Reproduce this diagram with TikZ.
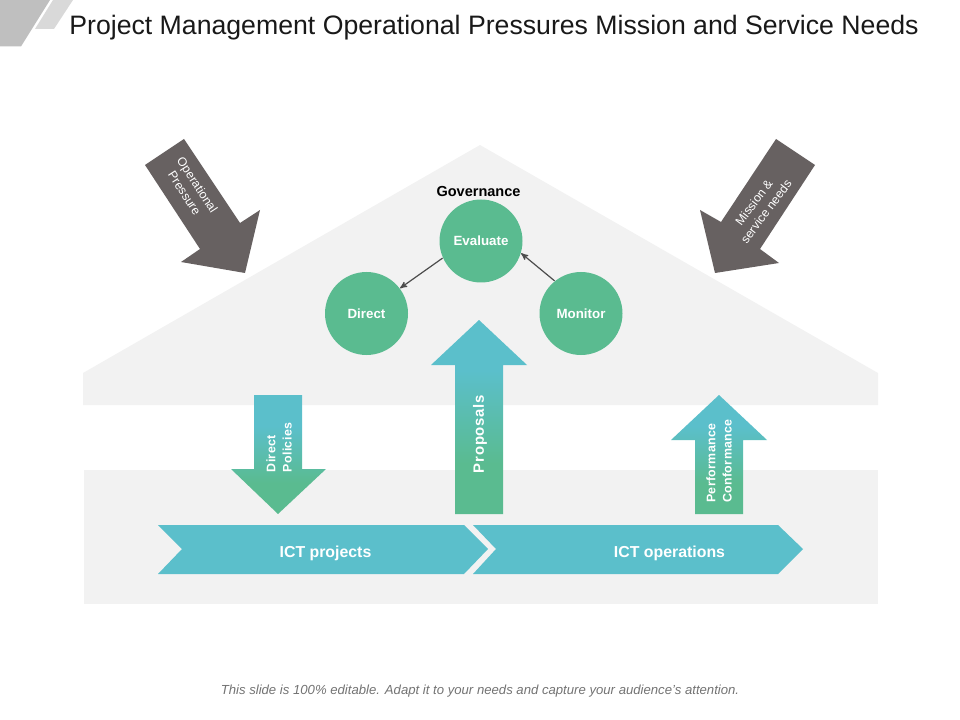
\documentclass[tikz,border=0pt]{standalone}
\usepackage{xcolor}
\usepackage{fontspec}
\setmainfont{Liberation Sans}
\usetikzlibrary{arrows, positioning}
\definecolor{roofgrey}{HTML}{F2F2F2}
\definecolor{darkarrow}{HTML}{676161}
\definecolor{circlegreen}{HTML}{5ABB90}
\definecolor{chevronteal}{HTML}{5BBFCB}
\pgfdeclareverticalshading{tealgreen}{100bp}{color(0bp)=(circlegreen); color(38bp)=(circlegreen); color(62bp)=(chevronteal); color(100bp)=(chevronteal)}

\begin{document}
\begin{tikzpicture}[x=0.75pt, y=-0.75pt,
			>=stealth',
			thick,
			phase/.style={circle, fill=circlegreen, minimum size=62.25pt, inner sep=0pt, text=white, font=\fontsize{10}{12}\selectfont\bfseries},
			block/.style={shading=tealgreen, draw=none},
			chevron/.style={fill=chevronteal},
			pressure/.style={fill=darkarrow},
			blocktext/.style={text=white, align=left, inner sep=0pt, font=\fontsize{9.3}{12.2}\selectfont\bfseries},
			pressuretext/.style={text=white, align=center, inner sep=0pt, font=\fontsize{9.2}{11.5}\selectfont},
			chevrontext/.style={text=white, font=\fontsize{11.9}{14}\selectfont\bfseries},
			link/.style={->, black!70, line width=0.9pt}]

			\useasboundingbox (0,0) rectangle (960,720);

			% corner marks
			\fill[black!25] (0,0) -- (50,0) -- (21,46.5) -- (0,46.5) -- cycle;
			\fill[black!15] (53,0) -- (73,0) -- (54,29) -- (35,29) -- cycle;

			% house
			\fill[roofgrey] (480,145) -- (878,373) -- (878,405) -- (83,405) -- (83,373) -- cycle;
			\fill[roofgrey] (84,470) rectangle (878,604);

			% pressure arrows
			\fill[pressure] (145,165) -- (184,139) -- (240,223) -- (260,210) -- (245,273) -- (181,262) -- (200,249) -- cycle;
			\fill[pressure] (815,165) -- (776,139) -- (721,222) -- (700,210) -- (715,273) -- (779,263) -- (760,249) -- cycle;
			\node[pressuretext, rotate=-57] (operational) at (191,189) {Operational\\Pressure};
			\node[pressuretext, rotate=53] (mission) at (760,207) {Mission \&\\service needs};

			% governance
			\node[phase, text depth=-1pt] (evaluate) at (481,241) {Evaluate};
			\node[phase, text depth=-1pt] (direct) at (366.5,313.5) {Direct};
			\node[phase, text depth=-1pt] (monitor) at (581,313.5) {Monitor};
			\node[font=\fontsize{10.9}{13}\selectfont\bfseries, text=black] (governance) at (478.5,191) {Governance};
			\draw[link] (evaluate.204) -- (direct.37);
			\draw[link] (monitor.129) -- (evaluate.-17.5);

			% flows
			\path[block] (479,320) -- (527,365) -- (503,365) -- (503,514) -- (455,514) -- (455,365) -- (431,365) -- cycle;
			\path[block] (254,395) -- (302,395) -- (302,469) -- (326,469) -- (278,514) -- (231,469) -- (254,469) -- cycle;
			\path[block] (719,395) -- (767,440) -- (743,440) -- (743,514) -- (695,514) -- (695,440) -- (671,440) -- cycle;
			\node[blocktext, rotate=90, font=\fontsize{11.2}{13}\selectfont\bfseries] (proposals) at (480,434) {\addfontfeatures{LetterSpace=5}Proposals};
			\node[blocktext, rotate=90] (policies) at (279,447.5) {\addfontfeatures{LetterSpace=3}Direct\\\addfontfeatures{LetterSpace=3}Policies};
			\node[blocktext, rotate=90] (performance) at (719,461) {\addfontfeatures{LetterSpace=3}Performance\\\addfontfeatures{LetterSpace=3}Conformance};

			% ict
			\fill[chevron] (158,525) -- (464,525) -- (488,549) -- (464,574) -- (158,574) -- (182,549) -- cycle;
			\fill[chevron] (473,525) -- (778,525) -- (803,549) -- (778,574) -- (473,574) -- (496,549) -- cycle;
			\node[chevrontext] (projects) at (325.5,553) {ICT projects};
			\node[chevrontext] (operations) at (669.5,553) {ICT operations};

			% texts
			\node[font=\fontsize{20}{24}\selectfont, text=black!90, inner sep=0pt] (title) at (494,28) {Project Management Operational Pressures Mission and Service Needs};
			\node[font=\fontsize{9.86}{12}\selectfont\itshape, text=black!55, inner sep=0pt] (footer) at (480,691.5) {This slide is 100\% editable. Adapt it to your needs and capture your audience's attention.};
		\end{tikzpicture}
\end{document}
